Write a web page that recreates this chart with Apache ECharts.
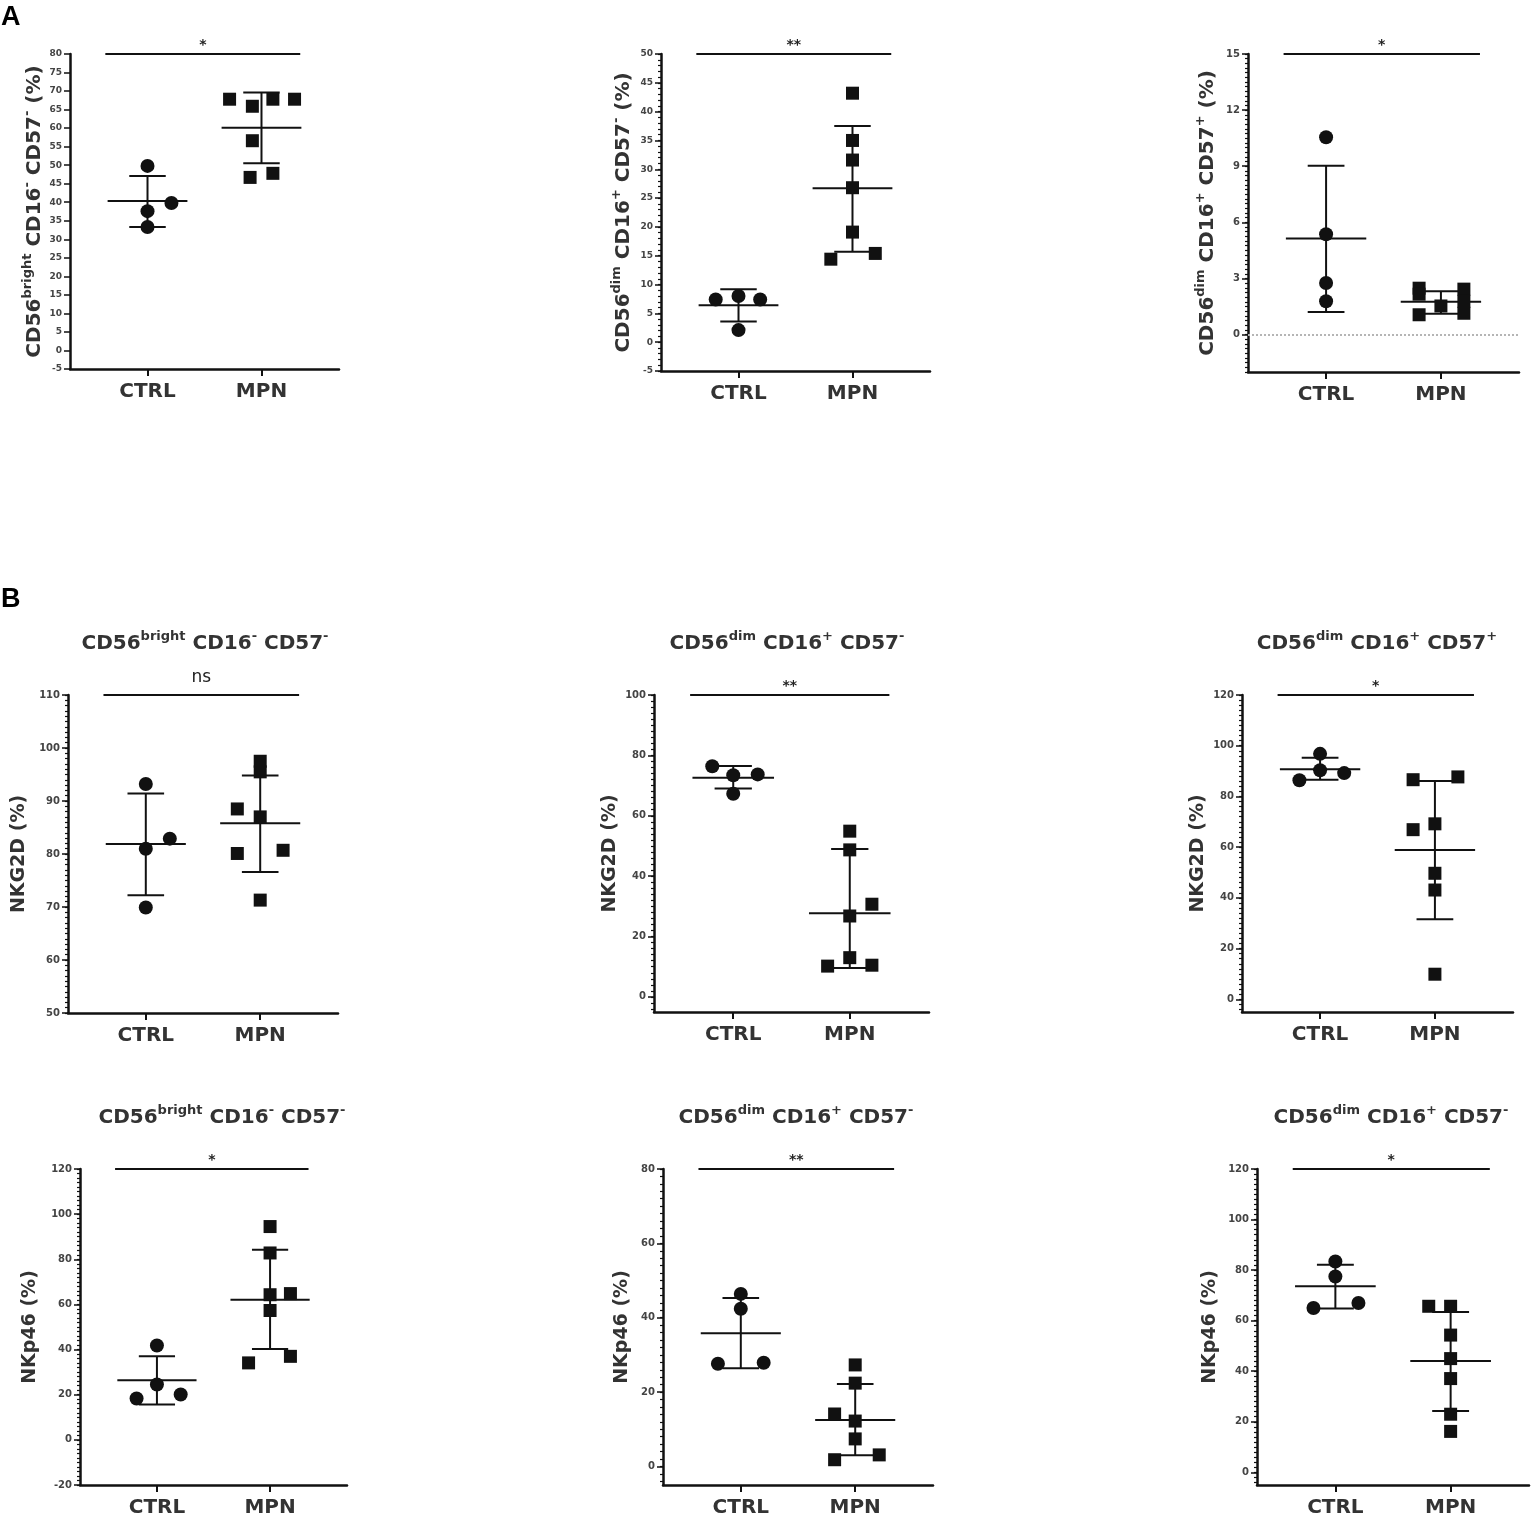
<!DOCTYPE html>
<html>
<head>
<meta charset="utf-8">
<script src="https://cdn.jsdelivr.net/npm/echarts@6.0.0/dist/echarts.min.js"></script>
<style>
html, body { margin: 0; padding: 0; background: #fff; }
#main { width: 1536px; height: 1518px; }
</style>
</head>
<body>
<div id="main"></div>
<script>
// groups on the x axis
var groups = ['CTRL', 'MPN'];

// panels: A1 A2 A3 / B1 B2 B3 (NKG2D) / B4 B5 B6 (NKp46)
var ctrlValues = [
    [49.8, 39.8, 37.6, 33.3],
    [7.4, 8.0, 7.4, 2.1],
    [10.55, 5.36, 2.76, 1.78],
    [93.2, 82.9, 81.0, 69.9],
    [76.4, 73.4, 73.7, 67.3],
    [96.8, 90.3, 86.4, 89.2],
    [18.3, 24.5, 20.1, 41.8],
    [46.4, 42.4, 27.6, 27.9],
    [83.4, 77.5, 65.0, 67.0]
];
// horizontal spread of the dots around the group position
var ctrlSpread = [
    [0, 0.21, 0, 0],
    [-0.2, 0, 0.19, 0],
    [0, 0, 0, 0],
    [0, 0.21, 0, 0],
    [-0.18, 0, 0.21, 0],
    [0, 0, -0.18, 0.21],
    [-0.18, 0, 0.21, 0],
    [0, 0, -0.2, 0.2],
    [0, 0, -0.19, 0.2]
];
var mpnValues = [
    [67.8, 65.9, 67.8, 67.8, 56.6, 46.7, 47.8],
    [43.2, 35.0, 31.6, 26.8, 19.1, 14.4, 15.4],
    [2.48, 2.16, 1.06, 1.53, 2.43, 1.78, 1.14],
    [97.5, 95.5, 88.5, 87.0, 80.1, 80.7, 71.3],
    [54.9, 48.7, 30.7, 26.8, 13.0, 10.2, 10.5],
    [86.6, 87.7, 66.9, 69.2, 49.7, 43.1, 9.9],
    [94.5, 82.8, 64.3, 64.8, 57.3, 34.1, 37.0],
    [27.3, 22.4, 14.1, 12.2, 7.4, 1.8, 3.1],
    [65.7, 65.7, 54.3, 45.0, 37.1, 23.0, 16.2]
];
var mpnSpread = [
    [-0.28, -0.08, 0.1, 0.29, -0.08, -0.1, 0.1],
    [0, 0, 0, 0, 0, -0.19, 0.2],
    [-0.19, -0.19, -0.19, 0, 0.2, 0.2, 0.2],
    [0, 0, -0.2, 0, -0.2, 0.2, 0],
    [0, 0, 0.19, 0, 0, -0.19, 0.19],
    [-0.19, 0.2, -0.19, 0, 0, 0, 0],
    [0, 0, 0, 0.18, 0, -0.19, 0.18],
    [0, 0, -0.18, 0, 0, -0.18, 0.21],
    [-0.19, 0, 0, 0, 0, 0, 0]
];
// mean, lower SD, upper SD
var ctrlMeanSd = [
    [40.3, 33.3, 47.1],
    [6.4, 3.6, 9.2],
    [5.14, 1.21, 9.03],
    [81.9, 72.2, 91.4],
    [72.6, 69.0, 76.5],
    [90.7, 86.6, 95.3],
    [26.4, 15.7, 37.0],
    [35.8, 26.4, 45.3],
    [73.6, 64.8, 82.1]
];
var mpnMeanSd = [
    [60.1, 50.5, 69.6],
    [26.7, 15.7, 37.5],
    [1.75, 1.12, 2.32],
    [85.8, 76.6, 94.8],
    [27.7, 9.6, 49.0],
    [58.9, 31.6, 86.1],
    [62.1, 40.3, 84.2],
    [12.5, 3.0, 22.2],
    [44.1, 24.3, 63.4]
];
var sigLabels = ['*', '**', '*', 'ns', '**', '*', '*', '**', '*'];

// y axes
var yMin = [-5, -5, -2, 50, -5, -5, -20, -5, -5];
var yMax = [80, 50, 15, 110, 100, 120, 120, 80, 120];
var yLabelStep = [5, 5, 3, 10, 20, 20, 20, 20, 20];
var yMinorStep = [0, 1, 0.25, 1, 2, 2, 2, 2, 2];

var yNames = [
    '{m|CD56}{s|bright}{m| CD16}{s|-}{m| CD57}{s|-}{m| (%)}',
    '{m|CD56}{s|dim}{m| CD16}{s|+}{m| CD57}{s|-}{m| (%)}',
    '{m|CD56}{s|dim}{m| CD16}{s|+}{m| CD57}{s|+}{m| (%)}',
    'NKG2D (%)', 'NKG2D (%)', 'NKG2D (%)',
    'NKp46 (%)', 'NKp46 (%)', 'NKp46 (%)'
];
var panelTitles = [
    '', '', '',
    '{m|CD56}{s|bright}{m| CD16}{s|-}{m| CD57}{s|-}',
    '{m|CD56}{s|dim}{m| CD16}{s|+}{m| CD57}{s|-}',
    '{m|CD56}{s|dim}{m| CD16}{s|+}{m| CD57}{s|+}',
    '{m|CD56}{s|bright}{m| CD16}{s|-}{m| CD57}{s|-}',
    '{m|CD56}{s|dim}{m| CD16}{s|+}{m| CD57}{s|-}',
    '{m|CD56}{s|dim}{m| CD16}{s|+}{m| CD57}{s|-}'
];

// layout
var FONT = 'DejaVu Sans';
var INK = '#111';
var gridBoxes = [
    {left: 70, top: 54, width: 269, height: 315},
    {left: 661, top: 54, width: 269, height: 317},
    {left: 1248, top: 54, width: 271, height: 318},
    {left: 68, top: 695, width: 270, height: 318},
    {left: 654, top: 695, width: 275, height: 317},
    {left: 1242, top: 695, width: 271, height: 317},
    {left: 80, top: 1169, width: 267, height: 317},
    {left: 663, top: 1169, width: 270, height: 318},
    {left: 1257, top: 1169, width: 272, height: 317}
];
var yNameGap = [25, 27, 30, 39, 34, 34, 40, 31, 37];
var titlePos = [null, null, null, [205, 642], [787, 642], [1377, 642], [222, 1116], [796, 1116], [1391, 1116]];

function ticksFrom(min, max, step) {
    var out = [];
    if (!step) return out;
    var start = Math.ceil(min / step - 1e-9) * step;
    for (var v = start; v <= max + 1e-9; v += step) {
        out.push(Math.round(v * 1000) / 1000);
    }
    return out;
}

function renderMeanSd(params, api) {
    var x = api.value(0);
    var mean = api.value(1), lo = api.value(2), hi = api.value(3);
    var style = {stroke: INK, lineWidth: 2};
    function seg(x1, y1, x2, y2) {
        var a = api.coord([x1, y1]);
        var b = api.coord([x2, y2]);
        return {type: 'line', shape: {x1: a[0], y1: a[1], x2: b[0], y2: b[1]}, style: style};
    }
    return {
        type: 'group',
        children: [
            seg(x - 0.35, mean, x + 0.35, mean),
            seg(x, lo, x, hi),
            seg(x - 0.16, lo, x + 0.16, lo),
            seg(x - 0.16, hi, x + 0.16, hi)
        ]
    };
}

function makeSig(label) {
    return function (params, api) {
        var top = api.value(0);
        var a = api.coord([0.63, top]);
        var b = api.coord([2.34, top]);
        var ns = label === 'ns';
        return {
            type: 'group',
            children: [
                {type: 'line', shape: {x1: a[0], y1: a[1], x2: b[0], y2: b[1]},
                    style: {stroke: INK, lineWidth: 2}},
                {type: 'text', x: (a[0] + b[0]) / 2, y: a[1] - (ns ? 17 : 9),
                    style: {text: label, align: 'center', verticalAlign: 'middle',
                        fill: '#222', fontFamily: FONT,
                        fontSize: ns ? 17 : 14, fontWeight: ns ? 'normal' : 'bold'}}
            ]
        };
    };
}

var nameRich = {
    m: {fontFamily: FONT, fontSize: 20, fontWeight: 'bold', color: '#333', lineHeight: 24, verticalAlign: 'bottom'},
    s: {fontFamily: FONT, fontSize: 13, fontWeight: 'bold', color: '#333', lineHeight: 16, verticalAlign: 'top'}
};

var grids = [], xAxes = [], yAxes = [], series = [], graphics = [];

for (var i = 0; i < 9; i++) {
    grids.push(gridBoxes[i]);

    xAxes.push({
        gridIndex: i,
        type: 'value',
        min: 0.32,
        max: 2.68,
        axisLine: {show: true, onZero: false, lineStyle: {color: INK, width: 2.5}},
        axisTick: {show: true, customValues: [1, 2], length: 7, lineStyle: {color: INK, width: 2}},
        axisLabel: {
            customValues: [1, 2],
            formatter: function (v) { return groups[Math.round(v) - 1]; },
            margin: 13,
            fontFamily: FONT, fontSize: 20, fontWeight: 'bold', color: '#333'
        },
        splitLine: {show: false}
    });

    var labelVals = ticksFrom(yMin[i], yMax[i], yLabelStep[i]);
    var isA = i < 3;
    yAxes.push({
        gridIndex: i,
        type: 'value',
        position: 'left',
        min: yMin[i],
        max: yMax[i],
        axisLine: {show: true, onZero: false, lineStyle: {color: INK, width: 2.5}},
        axisTick: {show: true, customValues: labelVals, length: 6, lineStyle: {color: INK, width: 1.5}},
        axisLabel: {
            customValues: labelVals,
            margin: 8,
            fontFamily: FONT, fontSize: i < 2 ? 9 : 10, fontWeight: 'bold', color: '#444'
        },
        splitLine: {show: false},
        name: yNames[i],
        nameLocation: 'middle',
        nameRotate: 90,
        nameGap: yNameGap[i],
        nameTextStyle: isA
            ? {fontFamily: FONT, color: '#333', rich: nameRich}
            : {fontFamily: FONT, fontSize: 19, fontWeight: 'bold', color: '#333'}
    });
    // minor ticks on a second axis sharing the same scale
    yAxes.push({
        gridIndex: i,
        type: 'value',
        position: 'left',
        min: yMin[i],
        max: yMax[i],
        axisLine: {show: false, onZero: false},
        axisTick: {show: yMinorStep[i] > 0, customValues: ticksFrom(yMin[i], yMax[i], yMinorStep[i]),
            length: 3, lineStyle: {color: INK, width: 1.2}},
        axisLabel: {show: false},
        splitLine: {show: false}
    });

    var ctrlData = ctrlValues[i].map(function (v, k) { return [1 + ctrlSpread[i][k], v]; });
    var mpnData = mpnValues[i].map(function (v, k) { return [2 + mpnSpread[i][k], v]; });

    var ctrlSeries = {
        type: 'scatter',
        name: groups[0],
        xAxisIndex: i,
        yAxisIndex: 2 * i,
        symbol: 'circle',
        symbolSize: 14,
        itemStyle: {color: INK, opacity: 1},
        z: 4,
        data: ctrlData
    };
    if (i === 2) {
        ctrlSeries.markLine = {
            silent: true,
            symbol: ['none', 'none'],
            label: {show: false},
            lineStyle: {type: 'dotted', color: '#b5b5b5', width: 2},
            data: [{yAxis: 0}]
        };
    }
    series.push(ctrlSeries);
    series.push({
        type: 'scatter',
        name: groups[1],
        xAxisIndex: i,
        yAxisIndex: 2 * i,
        symbol: 'rect',
        symbolSize: 13,
        itemStyle: {color: INK, opacity: 1},
        z: 4,
        data: mpnData
    });
    series.push({
        type: 'custom',
        xAxisIndex: i,
        yAxisIndex: 2 * i,
        renderItem: renderMeanSd,
        encode: {x: 0, y: [1, 2, 3]},
        clip: false,
        z: 3,
        data: [[1].concat(ctrlMeanSd[i]), [2].concat(mpnMeanSd[i])]
    });
    series.push({
        type: 'custom',
        xAxisIndex: i,
        yAxisIndex: 2 * i,
        renderItem: makeSig(sigLabels[i]),
        encode: {y: 0},
        clip: false,
        z: 3,
        data: [[yMax[i]]]
    });

    if (titlePos[i]) {
        graphics.push({
            type: 'text',
            x: titlePos[i][0],
            y: titlePos[i][1],
            style: {
                text: panelTitles[i],
                align: 'center',
                verticalAlign: 'middle',
                fill: '#333',
                fontFamily: FONT,
                rich: nameRich
            }
        });
    }
}

graphics.push({type: 'text', x: 1, y: 4,
    style: {text: 'A', fill: '#000', fontFamily: 'Liberation Sans', fontSize: 27, fontWeight: 'bold'}});
graphics.push({type: 'text', x: 1, y: 586,
    style: {text: 'B', fill: '#000', fontFamily: 'Liberation Sans', fontSize: 27, fontWeight: 'bold'}});

var chart = echarts.init(document.getElementById('main'), null, {renderer: 'canvas'});
chart.setOption({
    backgroundColor: '#fff',
    animation: false,
    grid: grids,
    xAxis: xAxes,
    yAxis: yAxes,
    graphic: graphics,
    series: series
});
</script>
</body>
</html>
